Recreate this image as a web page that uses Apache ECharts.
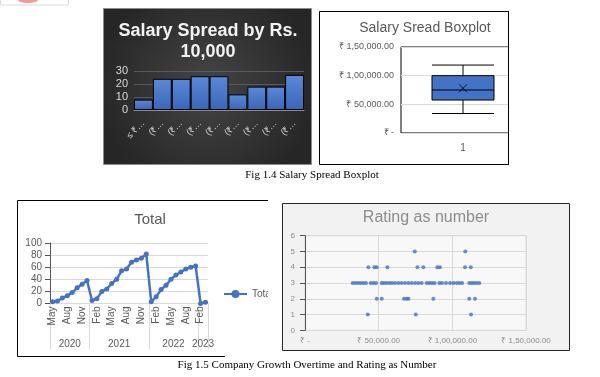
<!DOCTYPE html>
<html>
<head>
<meta charset="utf-8">
<script src="https://cdn.jsdelivr.net/npm/echarts@6/dist/echarts.min.js"></script>
<style>
  html, body { margin: 0; padding: 0; background: #fff; }
  #container { width: 600px; height: 377px; }
</style>
</head>
<body>
<div id="container"></div>
<script>
// Fig 1.4 left: salary histogram
let binLabels = ['≤ ₹ 35,000', '(₹ 35,000, ₹ 45,000]', '(₹ 45,000, ₹ 55,000]', '(₹ 55,000, ₹ 65,000]',
  '(₹ 65,000, ₹ 75,000]', '(₹ 75,000, ₹ 85,000]', '(₹ 85,000, ₹ 95,000]', '(₹ 95,000, ₹ 1,05,000]', '(₹ 1,05,000, ₹ 1,15,000]'];
let binCounts = [8, 24, 24, 26, 26, 12, 18, 18, 27];

// Fig 1.4 right: boxplot  [min, q1, median, q3, max]
let boxStats = [34000, 57500, 75000, 100000, 118500];
let salaryMean = 78000;

// Fig 1.5 left: company growth by month
let monthLabels = ['May', 'Jun', 'Jul', 'Aug', 'Sep', 'Oct', 'Nov', 'Dec',
  'Jan', 'Feb', 'Mar', 'Apr', 'May', 'Jun', 'Jul', 'Aug', 'Sep', 'Oct', 'Nov', 'Dec',
  'Jan', 'Feb', 'Mar', 'Apr', 'May', 'Jun', 'Jul', 'Aug', 'Sep', 'Oct',
  'Feb', 'Mar'];
let totalCounts = [3, 4, 9, 13, 18, 26, 32, 38,
  5, 8, 20, 24, 33, 40, 54, 57, 68, 72, 75, 82,
  3, 11, 23, 30, 40, 47, 52, 57, 60, 62,
  0, 2];
let yearLabels = ['2020', '2021', '2022', '2023'];
let yearBreaks = [0, 8, 20, 30, 32];

// Fig 1.5 right: rating vs salary
let salaryValues = [32400, 34200, 36000, 37800, 39600, 41400, 44600, 46400, 48200, 52100, 53600, 55400, 57300,
  59100, 61100, 63400, 65600, 67900, 70200, 72400, 74700, 76900, 79200, 82600, 84400, 86200, 88000, 91200,
  93000, 95700, 98400, 100700, 103000, 104800, 106600, 111500, 113100, 114700, 116500, 118300,
  43000, 47100, 48700, 55900, 76300, 80300, 89800, 91600, 108600, 112500,
  74500, 108800,
  48700, 52100, 67200, 69000, 70200, 87100, 111500, 115400,
  42600, 75200, 112700];
let ratingValues = [3, 3, 3, 3, 3, 3, 3, 3, 3, 3, 3, 3, 3,
  3, 3, 3, 3, 3, 3, 3, 3, 3, 3, 3, 3, 3, 3, 3,
  3, 3, 3, 3, 3, 3, 3, 3, 3, 3, 3, 3,
  4, 4, 4, 4, 4, 4, 4, 4, 4, 4,
  5, 5,
  2, 2, 2, 2, 2, 2, 2, 2,
  1, 1, 1];

function inr(v) {
  if (v === 0) return '₹ -';
  let s = String(v);
  let last3 = s.slice(-3);
  let rest = s.slice(0, -3).replace(/\B(?=(\d{2})+(?!\d))/g, ',');
  return '₹ ' + (rest ? rest + ',' : '') + last3 + '.00';
}

let blue = '#4472C4';
let font = 'Liberation Sans';

let dom = document.getElementById('container');
let myChart = echarts.init(dom, null, { renderer: 'canvas' });

let option = {
  animation: false,
  textStyle: { fontFamily: font },
  graphic: [
    // scrap of a shape at top-left
    { type: 'rect', z: -10, shape: { x: 0.5, y: -2, width: 68, height: 7 }, style: { fill: '#fff', stroke: '#d9d9d9' } },
    { type: 'ellipse', z: -9, shape: { cx: 28, cy: 0, rx: 10, ry: 3 }, style: { fill: '#f29a9a' } },
    // dark histogram panel
    {
      type: 'rect', z: -10, shape: { x: 103.5, y: 8.5, width: 208, height: 156 },
      style: {
        stroke: '#8c8c8c', lineWidth: 1,
        fill: new echarts.graphic.RadialGradient(0.5, 0.5, 0.7, [
          { offset: 0, color: '#454545' }, { offset: 1, color: '#262626' }
        ])
      }
    },
    {
      type: 'text', x: 208, y: 42, z: 10,
      style: {
        text: 'Salary Spread by Rs.\n10,000', fill: '#f2f2f2', font: 'bold 18px ' + font,
        align: 'center', verticalAlign: 'middle', lineHeight: 21
      }
    },
    // boxplot panel (picture is cut off on its right side)
    { type: 'rect', z: -10, shape: { x: 319.5, y: 11.5, width: 189, height: 153 }, style: { fill: '#fff', stroke: '#000' } },
    { type: 'rect', z: 50, shape: { x: 509, y: 5, width: 25, height: 165 }, style: { fill: '#fff' } },
    { type: 'line', z: 51, shape: { x1: 508.5, y1: 11, x2: 508.5, y2: 165 }, style: { stroke: '#000' } },
    {
      type: 'text', x: 425, y: 28, z: 10,
      style: { text: 'Salary Sread Boxplot', fill: '#595959', font: '14px ' + font, align: 'center', verticalAlign: 'middle' }
    },
    // line chart frame
    {
      type: 'polyline', z: -10, shape: { points: [[268, 200.5], [17.5, 200.5], [17.5, 356.5], [225, 356.5]] },
      style: { stroke: '#000', fill: null }
    },
    {
      type: 'text', x: 150, y: 220, z: 10,
      style: { text: 'Total', fill: '#595959', font: '15px ' + font, align: 'center', verticalAlign: 'middle' }
    },
    // scatter panel
    { type: 'rect', z: -10, shape: { x: 282.5, y: 203.5, width: 287, height: 147 }, style: { fill: '#f2f2f2', stroke: '#262626' } },
    { type: 'rect', z: 50, shape: { x: 268, y: 270, width: 14, height: 40 }, style: { fill: '#fff' } },
    {
      type: 'text', x: 426, y: 218, z: 10,
      style: { text: 'Rating as number', fill: '#8c8c8c', font: '16px ' + font, align: 'center', verticalAlign: 'middle' }
    },
    // captions
    {
      type: 'text', x: 312, y: 175,
      style: { text: 'Fig 1.4 Salary Spread Boxplot', fill: '#000', font: '11px "Liberation Serif"', align: 'center', verticalAlign: 'middle' }
    },
    {
      type: 'text', x: 307, y: 365,
      style: { text: 'Fig 1.5 Company Growth Overtime and Rating as Number', fill: '#000', font: '11px "Liberation Serif"', align: 'center', verticalAlign: 'middle' }
    }
  ],
  legend: {
    data: ['Total'], left: 223, top: 289, padding: 0, itemWidth: 23, itemHeight: 10, itemGap: 2,
    textStyle: { color: '#595959', fontSize: 10 }
  },
  grid: [
    { left: 134, top: 71, width: 170, height: 39 },
    { left: 401, top: 47, width: 124, height: 86, show: true, borderColor: '#000', borderWidth: 1 },
    { left: 50, top: 243, width: 158, height: 60.5 },
    { left: 305, top: 235.7, width: 221, height: 94.6, show: true, backgroundColor: '#f8f8f8', borderColor: '#d9d9d9' }
  ],
  xAxis: [
    {
      gridIndex: 0, type: 'category', data: binLabels,
      axisLine: { lineStyle: { color: '#8c8c8c' } }, axisTick: { show: false },
      axisLabel: {
        rotate: 45, color: '#d9d9d9', fontSize: 9, margin: 12, interval: 0,
        formatter: (v) => v.slice(0, v.indexOf('₹') + 1) + '…'
      }
    },
    {
      gridIndex: 1, type: 'category', data: ['1'],
      axisLine: { show: false }, axisTick: { show: false },
      axisLabel: { color: '#595959', fontSize: 10, margin: 10 }
    },
    {
      gridIndex: 2, type: 'category', data: monthLabels,
      axisLine: { lineStyle: { color: '#d9d9d9' } }, axisTick: { show: false },
      axisLabel: { rotate: 90, interval: 2, color: '#595959', fontSize: 10, margin: 3 }
    },
    {
      gridIndex: 2, type: 'value', min: 0, max: 32, position: 'bottom',
      axisLine: { show: false }, splitLine: { show: false },
      axisTick: { show: true, customValues: yearBreaks, length: 46, lineStyle: { color: '#d9d9d9' } },
      axisLabel: {
        customValues: yearBreaks.slice(0, -1).map((b, i) => (b + yearBreaks[i + 1]) / 2),
        formatter: (v) => yearLabels[yearBreaks.findIndex((b, i) => v > b && v < yearBreaks[i + 1])],
        color: '#595959', fontSize: 10, margin: 36
      }
    },
    {
      gridIndex: 3, type: 'value', min: 0, max: 150000, interval: 50000,
      axisLine: { show: false }, axisTick: { show: false },
      splitLine: { lineStyle: { color: '#d9d9d9' } },
      axisLabel: { color: '#8c8c8c', fontSize: 8, margin: 6, formatter: inr }
    }
  ],
  yAxis: [
    {
      gridIndex: 0, type: 'value', min: 0, max: 30, interval: 10,
      axisLabel: { color: '#d9d9d9', fontSize: 11, margin: 6 },
      splitLine: { lineStyle: { color: '#595959' } }
    },
    {
      gridIndex: 1, type: 'value', min: 0, max: 150000, interval: 50000,
      axisLabel: { color: '#595959', fontSize: 9, margin: 7, formatter: inr },
      splitLine: { lineStyle: { color: '#d9d9d9' } }
    },
    {
      gridIndex: 2, type: 'value', min: 0, max: 100, interval: 20,
      axisLabel: { color: '#595959', fontSize: 10, margin: 8 },
      splitLine: { lineStyle: { color: '#d9d9d9' } }
    },
    {
      gridIndex: 3, type: 'value', min: 0, max: 6, interval: 1,
      axisLabel: { color: '#8c8c8c', fontSize: 8, margin: 10 },
      splitLine: { lineStyle: { color: '#d9d9d9' } }
    }
  ],
  series: [
    {
      type: 'bar', xAxisIndex: 0, yAxisIndex: 0, data: binCounts, barCategoryGap: '0%',
      itemStyle: {
        borderColor: '#000', borderWidth: 1,
        color: new echarts.graphic.LinearGradient(0, 0, 0, 1, [
          { offset: 0, color: '#5b88d9' }, { offset: 1, color: '#3a66b8' }
        ])
      }
    },
    {
      type: 'boxplot', xAxisIndex: 1, yAxisIndex: 1, data: [boxStats], boxWidth: [62, 62],
      itemStyle: { color: blue, borderColor: '#000', borderWidth: 1 }
    },
    {
      type: 'scatter', xAxisIndex: 1, yAxisIndex: 1, data: [['1', salaryMean]],
      symbol: 'path://M0,0L10,10M10,0L0,10', symbolSize: 8,
      itemStyle: { color: 'rgba(0,0,0,0)', borderColor: '#000', borderWidth: 1 }
    },
    {
      name: 'Total', type: 'line', xAxisIndex: 2, yAxisIndex: 2, data: totalCounts,
      symbol: 'circle', symbolSize: 5, showAllSymbol: true,
      lineStyle: { width: 2.5, color: blue }, itemStyle: { color: blue }
    },
    {
      type: 'scatter', xAxisIndex: 4, yAxisIndex: 3,
      data: salaryValues.map((s, i) => [s, ratingValues[i]]),
      symbolSize: 4, itemStyle: { color: blue }
    }
  ]
};

if (option && typeof option === 'object') {
  myChart.setOption(option);
}

window.addEventListener('resize', myChart.resize);
</script>
</body>
</html>
